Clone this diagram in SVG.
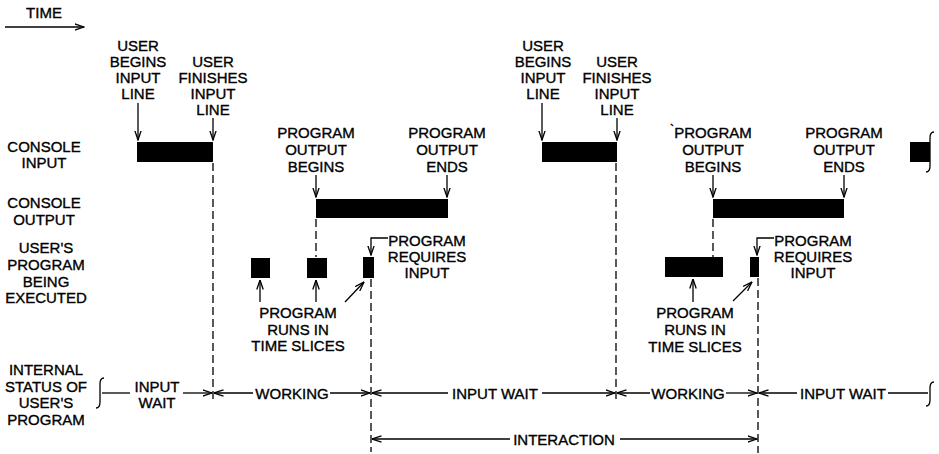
<svg xmlns="http://www.w3.org/2000/svg" width="939" height="454" viewBox="0 0 939 454">
  <defs>
    <style>
      text { font-family: "Liberation Sans", Arial, sans-serif; font-size: 15px; fill: #000; stroke: #000; stroke-width: 0.35; }
      .c { text-anchor: middle; }
      .bar { fill: #000; }
      .ln { stroke: #000; stroke-width: 1.3; fill: none; }
      .dash { stroke: #000; stroke-width: 1.3; fill: none; stroke-dasharray: 8 4; }
      .arr { stroke: #000; stroke-width: 1.3; fill: none; marker-end: url(#ah); }
    </style>
    <marker id="ah" viewBox="0 0 10 8" refX="9.5" refY="4" markerWidth="10" markerHeight="8" markerUnits="userSpaceOnUse" orient="auto">
      <path d="M0,0.8 L9.5,4 L0,7.2" fill="none" stroke="#000" stroke-width="1.3"/>
    </marker>
  </defs>
  <rect width="939" height="454" fill="#fff"/>

  <!-- time direction -->
  <g id="time">
    <text x="44" y="18" class="c">TIME</text>
    <line x1="5" y1="27" x2="84" y2="27" class="arr"/>
  </g>

  <!-- row labels -->
  <g id="row-console-input">
    <text class="c" x="44" y="152">CONSOLE</text>
    <text class="c" x="44" y="168">INPUT</text>
  </g>
  <g id="row-console-output">
    <text class="c" x="44" y="208">CONSOLE</text>
    <text class="c" x="44" y="225">OUTPUT</text>
  </g>
  <g id="row-program">
    <text class="c" x="46" y="253">USER'S</text>
    <text class="c" x="46" y="270">PROGRAM</text>
    <text class="c" x="46" y="287">BEING</text>
    <text class="c" x="46" y="303">EXECUTED</text>
  </g>
  <g id="row-status">
    <text class="c" x="46" y="375">INTERNAL</text>
    <text class="c" x="46" y="392">STATUS OF</text>
    <text class="c" x="46" y="408">USER'S</text>
    <text class="c" x="46" y="425">PROGRAM</text>
  </g>

  <!-- event labels, first cycle -->
  <g id="user-begins-1">
    <text class="c" x="138" y="51">USER</text>
    <text class="c" x="138" y="67">BEGINS</text>
    <text class="c" x="138" y="83">INPUT</text>
    <text class="c" x="138" y="99">LINE</text>
  </g>
  <g id="user-finishes-1">
    <text class="c" x="213" y="67">USER</text>
    <text class="c" x="213" y="83">FINISHES</text>
    <text class="c" x="213" y="99">INPUT</text>
    <text class="c" x="213" y="115">LINE</text>
  </g>
  <g id="output-begins-1">
    <text class="c" x="316" y="138">PROGRAM</text>
    <text class="c" x="316" y="155">OUTPUT</text>
    <text class="c" x="316" y="172">BEGINS</text>
  </g>
  <g id="output-ends-1">
    <text class="c" x="447" y="138">PROGRAM</text>
    <text class="c" x="447" y="155">OUTPUT</text>
    <text class="c" x="447" y="172">ENDS</text>
  </g>
  <g id="requires-input-1">
    <text class="c" x="427" y="246">PROGRAM</text>
    <text class="c" x="427" y="262">REQUIRES</text>
    <text class="c" x="427" y="278">INPUT</text>
  </g>
  <g id="time-slices-1">
    <text class="c" x="298" y="318">PROGRAM</text>
    <text class="c" x="298" y="335">RUNS IN</text>
    <text class="c" x="298" y="351">TIME SLICES</text>
  </g>

  <!-- event labels, second cycle -->
  <g id="user-begins-2">
    <text class="c" x="543" y="51">USER</text>
    <text class="c" x="543" y="67">BEGINS</text>
    <text class="c" x="543" y="83">INPUT</text>
    <text class="c" x="543" y="99">LINE</text>
  </g>
  <g id="user-finishes-2">
    <text class="c" x="617" y="67">USER</text>
    <text class="c" x="617" y="83">FINISHES</text>
    <text class="c" x="617" y="99">INPUT</text>
    <text class="c" x="617" y="115">LINE</text>
  </g>
  <g id="output-begins-2">
    <text x="670" y="134" style="font-size:12px">`</text>
    <text class="c" x="713" y="138">PROGRAM</text>
    <text class="c" x="713" y="155">OUTPUT</text>
    <text class="c" x="713" y="172">BEGINS</text>
  </g>
  <g id="output-ends-2">
    <text class="c" x="844" y="138">PROGRAM</text>
    <text class="c" x="844" y="155">OUTPUT</text>
    <text class="c" x="844" y="172">ENDS</text>
  </g>
  <g id="requires-input-2">
    <text class="c" x="813" y="246">PROGRAM</text>
    <text class="c" x="813" y="262">REQUIRES</text>
    <text class="c" x="813" y="278">INPUT</text>
  </g>
  <g id="time-slices-2">
    <text class="c" x="695" y="318">PROGRAM</text>
    <text class="c" x="695" y="335">RUNS IN</text>
    <text class="c" x="695" y="352">TIME SLICES</text>
  </g>

  <!-- activity bars -->
  <g id="bars">
    <rect class="bar" x="137" y="142" width="76" height="20"/>
    <rect class="bar" x="542" y="142" width="75" height="20"/>
    <rect class="bar" x="910" y="142" width="20" height="20"/>
    <rect class="bar" x="316" y="199" width="132" height="19"/>
    <rect class="bar" x="713" y="199" width="131" height="19"/>
    <rect class="bar" x="251" y="258" width="19" height="20"/>
    <rect class="bar" x="307" y="258" width="20" height="20"/>
    <rect class="bar" x="363" y="257" width="11" height="21"/>
    <rect class="bar" x="665" y="257" width="58" height="20"/>
    <rect class="bar" x="750" y="257" width="9" height="20"/>
  </g>

  <!-- status intervals -->
  <g id="status-labels">
    <text class="c" x="157" y="392">INPUT</text>
    <text class="c" x="157" y="408">WAIT</text>
    <text class="c" x="292" y="399">WORKING</text>
    <text class="c" x="495" y="399">INPUT WAIT</text>
    <text class="c" x="688" y="399">WORKING</text>
    <text class="c" x="843" y="399">INPUT WAIT</text>
    <text class="c" x="564" y="445">INTERACTION</text>
  </g>

  <g id="connectors">
    <!-- braces -->
    <path class="ln" d="M104,378 Q100,378 100,384 V402 Q100,408 96,408"/>
    <path class="ln" d="M934,382 Q930,382 930,388 V400 Q930,406 926,406"/>
    <path class="ln" d="M934,132 Q930,132 930,138 V166 Q930,172 926,172"/>

    <!-- pointers to events -->
    <line class="arr" x1="138" y1="103" x2="138" y2="140"/>
    <line class="arr" x1="213" y1="118" x2="213" y2="140"/>
    <line class="arr" x1="542" y1="103" x2="542" y2="140"/>
    <line class="arr" x1="617" y1="118" x2="617" y2="140"/>
    <line class="arr" x1="316" y1="175" x2="316" y2="197"/>
    <line class="arr" x1="447" y1="175" x2="447" y2="197"/>
    <line class="arr" x1="713" y1="175" x2="713" y2="197"/>
    <line class="arr" x1="844" y1="175" x2="844" y2="197"/>
    <path class="arr" d="M388,238 H371 V255"/>
    <path class="arr" d="M774,238 H757 V255"/>
    <line class="arr" x1="260" y1="302" x2="260" y2="280"/>
    <line class="arr" x1="316" y1="302" x2="316" y2="280"/>
    <line class="arr" x1="345" y1="302" x2="364" y2="282"/>
    <line class="arr" x1="693" y1="302" x2="693" y2="279"/>
    <line class="arr" x1="733" y1="301" x2="752" y2="282"/>

    <!-- dashed event markers -->
    <line class="dash" x1="213" y1="163" x2="213" y2="402"/>
    <line class="dash" x1="616" y1="163" x2="616" y2="402"/>
    <line class="dash" x1="316" y1="219" x2="316" y2="257"/>
    <line class="dash" x1="713" y1="219" x2="713" y2="257"/>
    <line class="dash" x1="371" y1="279" x2="371" y2="452"/>
    <line class="dash" x1="758" y1="278" x2="758" y2="453"/>

    <!-- status interval arrows -->
    <line class="ln" x1="102" y1="393" x2="130" y2="393"/>
    <line class="arr" x1="183" y1="393" x2="212" y2="393"/>
    <line class="arr" x1="253" y1="393" x2="214" y2="393"/>
    <line class="arr" x1="330" y1="393" x2="370" y2="393"/>
    <line class="arr" x1="448" y1="393" x2="372" y2="393"/>
    <line class="arr" x1="542" y1="393" x2="615" y2="393"/>
    <line class="arr" x1="650" y1="393" x2="617" y2="393"/>
    <line class="arr" x1="726" y1="393" x2="757" y2="393"/>
    <line class="arr" x1="797" y1="393" x2="759" y2="393"/>
    <line class="ln" x1="888" y1="393" x2="928" y2="393"/>
    <line class="arr" x1="510" y1="439" x2="372" y2="439"/>
    <line class="arr" x1="620" y1="439" x2="757" y2="439"/>
  </g>
</svg>
